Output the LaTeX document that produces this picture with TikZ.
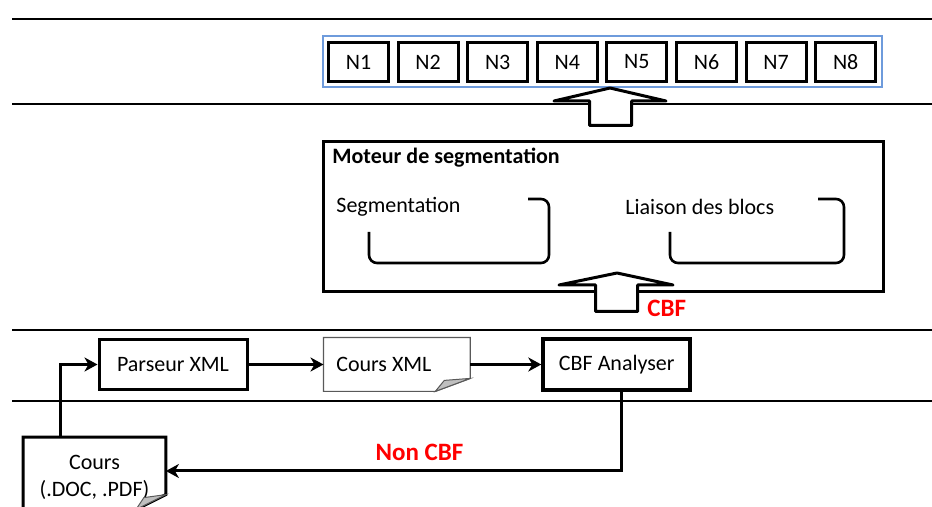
\documentclass[tikz,border=0pt]{standalone}
\usepackage{fontspec}
\setmainfont{Carlito}
\usetikzlibrary{arrows.meta, positioning, fit, calc}
\definecolor{rowblue}{RGB}{110,155,220}
\definecolor{labred}{RGB}{255,0,0}

\begin{document}
\begin{tikzpicture}[
    x=0.5pt, y=-0.5pt,
    every node/.style={font=\fontsize{11}{13.5}\selectfont},
    hrule/.style={line width=1.4pt},
    nbox/.style={draw, line width=1.5pt, minimum width=30pt, minimum height=19.5pt,
                 inner sep=0pt, outer sep=0pt},
    procbox/.style={draw, line width=1.5pt, minimum width=74pt, minimum height=25pt},
    enginebox/.style={draw, line width=1.5pt, minimum width=280pt, minimum height=75pt},
    docbox/.style={minimum width=73pt, minimum height=26.5pt},
    docline/.style={draw=black!65, line width=0.6pt},
    foldfill/.style={fill=black!25, draw=black!65, line width=0.5pt},
    bigarrow/.style={draw, fill=white, line width=1.5pt, line join=round},
    bracket/.style={line width=1.3pt, rounded corners=4pt},
    plain/.style={anchor=west, inner sep=0pt},
    flow/.style={-{Stealth[length=6.5pt, width=7pt, inset=2pt]}, line width=1.5pt},
    redlabel/.style={text=labred, font=\fontsize{12.5}{15}\selectfont\bfseries},
  ]
  \useasboundingbox (0,0) rectangle (932,507);
  \clip (0,0) rectangle (932,507);

  % --- swim lane rules ---
  \draw[hrule] (12,19) -- (940,19);
  \draw[hrule] (12,104) -- (940,104);
  \draw[hrule] (12,330) -- (940,330);
  \draw[hrule] (12,401) -- (940,401);

  % --- resulting blocks ---
  \node[nbox] (n1) at (358.5,62) {N1};
  \node[nbox, right=4.8pt of n1] (n2) {N2};
  \node[nbox, right=4.8pt of n2] (n3) {N3};
  \node[nbox, right=4.8pt of n3] (n4) {N4};
  \node[nbox, right=4.8pt of n4] (n5) {N5};
  \node[nbox, right=4.8pt of n5] (n6) {N6};
  \node[nbox, right=4.8pt of n6] (n7) {N7};
  \node[nbox, right=4.8pt of n7] (n8) {N8};
  \node[draw=rowblue, line width=1pt, inner sep=3pt, fit=(n1)(n8)] (nrow) {};

  \draw[bigarrow] (589.5,125.5) -- (589.5,101) -- (554,101) -- (610,88)
    -- (666,101) -- (631.5,101) -- (631.5,125.5) -- cycle;

  % --- segmentation engine ---
  \node[enginebox] (moteur) at (603.5,216.5) {};
  \node[plain, font=\fontsize{11}{13.5}\selectfont\bfseries] (motitle) at (332,158) {Moteur de segmentation};
  \node[plain] (seglabel) at (336,207) {Segmentation};
  \node[plain] (liaison) at (625,207) {Liaison des blocs};
  \draw[bracket] (528,199) -| (549,263) -| (369,232);
  \draw[bracket] (818,199) -| (844,263) -| (670,232);

  \draw[bigarrow] (595.5,311.5) -- (595.5,285) -- (559,285) -- (617,273)
    -- (673,285) -- (637.5,285) -- (637.5,311.5) -- cycle;
  \node[redlabel, plain] (cbflabel) at (647,308) {CBF};

  % --- parsing chain ---
  \node[procbox] (parseur) at (173,364.5) {Parseur XML};
  \node[docbox, right=37.5pt of parseur] (coursxml) {Cours XML\kern13pt};
  \draw[docline] (coursxml.north west) -- (coursxml.north east)
    -- ($(coursxml.south east)+(0,-13)$) -- ($(coursxml.south east)+(-35,0)$)
    -- (coursxml.south west) -- cycle;
  \draw[foldfill] ($(coursxml.south east)+(-35,0)$) -- ($(coursxml.south east)+(-26,-11)$)
    -- ($(coursxml.south east)+(0,-13)$) -- cycle;
  \node[procbox, line width=2pt, minimum width=73.5pt, minimum height=25.5pt,
        right=35.5pt of coursxml] (cbf) {CBF Analyser};

  % --- source course document ---
  \node[minimum width=71pt, minimum height=40pt, align=center] (cours)
    at (94.5,477.5) {Cours\\(.DOC, .PDF)};
  \draw[line width=1.5pt] (cours.north west) -- (cours.north east)
    -- ($(cours.north east)+(0,57.5)$) -- ($(cours.north east)+(-30,72.5)$)
    -- ($(cours.north west)+(0,72.5)$) -- cycle;
  \draw[foldfill] ($(cours.north east)+(-30,72.5)$) -- ($(cours.north east)+(-22,60.5)$)
    -- ($(cours.north east)+(0,57.5)$) -- cycle;

  \draw[flow] ([xshift=-17.25pt]cours.north) |- (parseur.west);
  \draw[flow] (parseur) -- (coursxml);
  \draw[flow] (coursxml) -- (cbf);
  \draw[flow] ([xshift=2.25pt]cbf.south) |- ([yshift=3.25pt]cours.east);
  \node[redlabel] (noncbf) at (419.5,452) {Non CBF};
\end{tikzpicture}
\end{document}
